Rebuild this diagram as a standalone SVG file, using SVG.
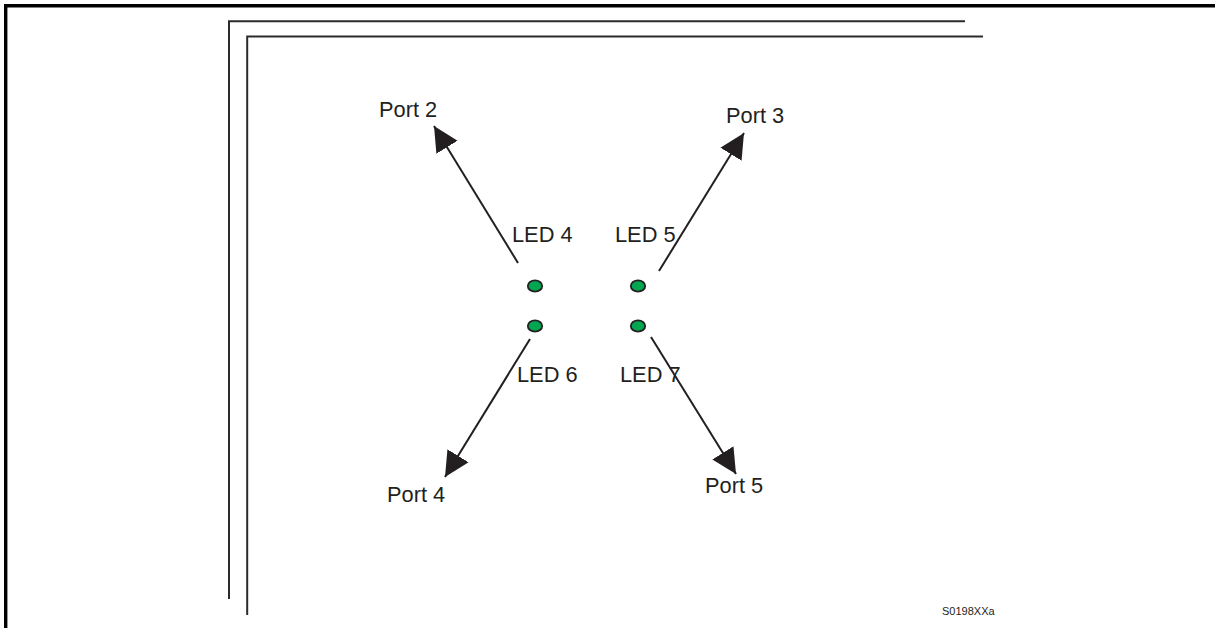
<svg xmlns="http://www.w3.org/2000/svg" width="1215" height="628" viewBox="0 0 1215 628">
  <style>
    .frame { fill: none; stroke: #000; stroke-width: 3.4; }
    .rail { fill: none; stroke: #2b2b2b; stroke-width: 2; }
    .lbl { font-family: "Liberation Sans", Arial, sans-serif; font-size: 21.8px; fill: #231f20; }
    .small { font-family: "Liberation Sans", Arial, sans-serif; font-size: 11px; fill: #231f20; }
    .led { fill: #00a650; stroke: #231f20; stroke-width: 1.8; }
    .conn { stroke: #231f20; stroke-width: 2; fill: none; marker-end: url(#arr); }
  </style>
  <defs>
    <marker id="arr" markerUnits="userSpaceOnUse" markerWidth="26" markerHeight="26" refX="22" refY="11" orient="auto" viewBox="0 0 23 22">
      <path d="M0,0 L22,11 L0,22 Z" fill="#231f20"/>
    </marker>
  </defs>
  <rect width="1215" height="628" fill="#fff"/>
  <g id="frame">
    <path class="frame" d="M5.7,628 V5.7 H1215"/>
    <path class="rail" d="M229,599 V21.3 H965"/>
    <path class="rail" d="M247.2,615 V36.5 H983"/>
  </g>
  <g id="connectors">
    <line class="conn" x1="518" y1="263" x2="434" y2="126"/>
    <line class="conn" x1="659" y1="271" x2="744" y2="133"/>
    <line class="conn" x1="530" y1="339" x2="445" y2="477"/>
    <line class="conn" x1="651" y1="337" x2="736" y2="474"/>
  </g>
  <g id="led4"><ellipse class="led" cx="535" cy="286" rx="7.2" ry="5.6"/><text class="lbl" x="512" y="242">LED 4</text></g>
  <g id="led5"><ellipse class="led" cx="638" cy="286" rx="7.2" ry="5.6"/><text class="lbl" x="615" y="242">LED 5</text></g>
  <g id="led6"><ellipse class="led" cx="535" cy="326" rx="7.2" ry="5.6"/><text class="lbl" x="517" y="382">LED 6</text></g>
  <g id="led7"><ellipse class="led" cx="638" cy="326" rx="7.2" ry="5.6"/><text class="lbl" x="620" y="382">LED 7</text></g>
  <g id="port2"><text class="lbl" x="379" y="116.5">Port 2</text></g>
  <g id="port3"><text class="lbl" x="726" y="123">Port 3</text></g>
  <g id="port4"><text class="lbl" x="387" y="502">Port 4</text></g>
  <g id="port5"><text class="lbl" x="705" y="493">Port 5</text></g>
  <text class="small" x="942" y="615">S0198XXa</text>
</svg>
